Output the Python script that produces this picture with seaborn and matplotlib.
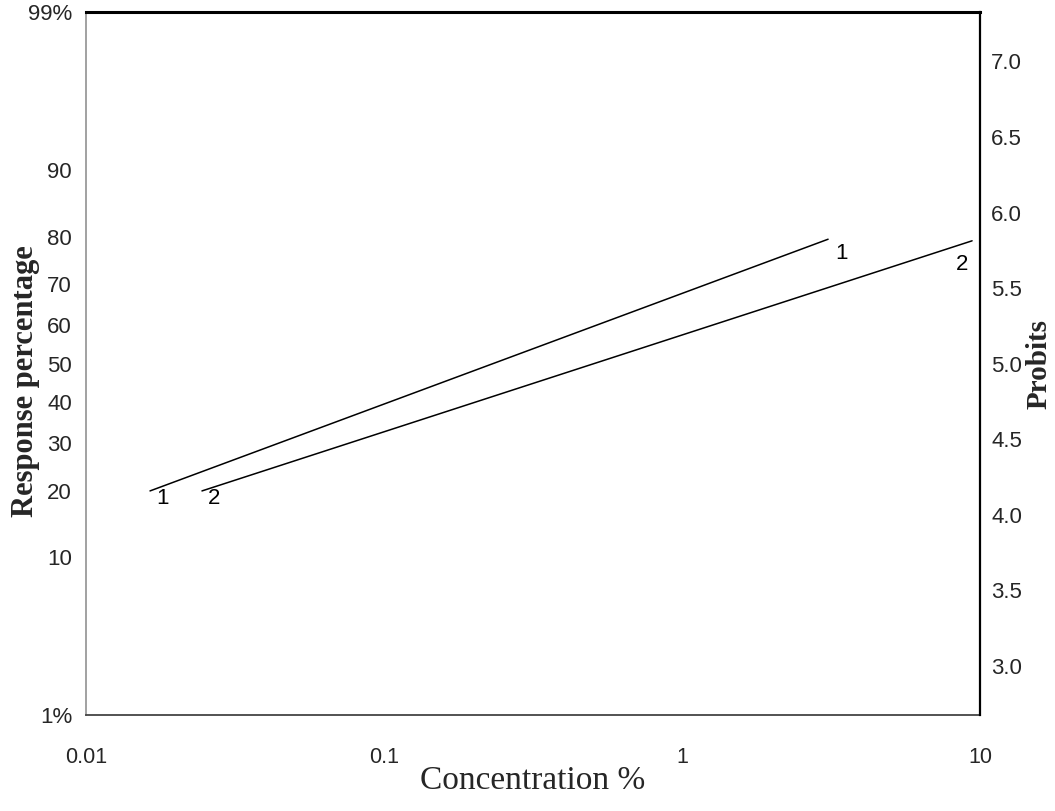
from statistics import NormalDist
import matplotlib
matplotlib.use("Agg")
import matplotlib.pyplot as plt
import numpy as np
import pandas as pd
import seaborn as sns

# data (concentration %, response %)
line_names = ["1", "2"]
conc_1 = [0.0164, 3.09]
resp_1 = [20.0, 79.5]
conc_2 = [0.0245, 9.4]
resp_2 = [20.0, 79.2]

# where the little "1" / "2" tags sit
tag_text = ["1", "2", "1", "2"]
tag_conc = [0.0180, 0.0269, 3.44, 8.70]
tag_resp = [18.7, 18.7, 76.8, 74.5]

pct_ticks = [1, 10, 20, 30, 40, 50, 60, 70, 80, 90, 99]
pct_labels = ["1%", "10", "20", "30", "40", "50", "60", "70", "80", "90", "99%"]
probit_ticks = [3.0, 3.5, 4.0, 4.5, 5.0, 5.5, 6.0, 6.5, 7.0]
x_ticks = [0.01, 0.1, 1, 10]
x_labels = ["0.01", "0.1", "1", "10"]

nd = NormalDist()


def _to_probit(p):
    p = min(max(p, 1e-9), 100 - 1e-9)
    return nd.inv_cdf(p / 100.0) + 5


def _from_probit(z):
    return nd.cdf(z - 5) * 100.0


to_probit = np.vectorize(_to_probit, otypes=[float])
from_probit = np.vectorize(_from_probit, otypes=[float])

df = pd.DataFrame({
    "conc": conc_1 + conc_2,
    "resp": resp_1 + resp_2,
    "line": [line_names[0]] * len(conc_1) + [line_names[1]] * len(conc_2),
})

sns.set_style("white")
plt.rcParams["font.family"] = ["Liberation Sans", "DejaVu Sans"]

fig, ax = plt.subplots(figsize=(10.55, 8.11), dpi=100)
fig.subplots_adjust(left=0.0815, right=0.929, top=0.985, bottom=0.118)

ax.set_xscale("log")
ax.set_yscale("function", functions=(to_probit, from_probit))
ax.set_xlim(0.01, 10)
ax.set_ylim(1, 99)

for name in line_names:
    sns.lineplot(data=df[df["line"] == name], x="conc", y="resp", color="black",
                 lw=1.1, estimator=None, sort=True, ax=ax, legend=False)

for t, xc, yr in zip(tag_text, tag_conc, tag_resp):
    ax.text(xc, yr, t, fontsize=16, ha="center", va="center", color="black")

ax.set_xticks(x_ticks)
ax.set_xticklabels(x_labels)
ax.xaxis.set_minor_locator(matplotlib.ticker.NullLocator())
ax.set_yticks(pct_ticks)
ax.set_yticklabels(pct_labels)
ax.yaxis.set_minor_locator(matplotlib.ticker.NullLocator())
ax.tick_params(axis="x", labelsize=15.5, length=2, width=1, pad=23, direction="in")
ax.tick_params(axis="y", labelsize=16, length=0, pad=10)

ax.set_xlabel("Concentration %", fontsize=24, family="Liberation Serif")
ax.xaxis.set_label_coords(0.5, -0.072)
ax.set_ylabel("Response percentage", fontsize=22, family="Liberation Serif",
              fontweight="bold", va="center")
ax.yaxis.set_label_coords(-0.068, 0.475)

ax.spines["left"].set_color("#9a9a9a")
ax.spines["left"].set_linewidth(1.3)
ax.spines["bottom"].set_color("#444444")
ax.spines["bottom"].set_linewidth(1.3)
ax.spines["top"].set_color("black")
ax.spines["top"].set_linewidth(2.2)
ax.spines["right"].set_visible(False)

# right hand probit axis
ax2 = ax.twinx()
ax2.set_ylim(_to_probit(1), _to_probit(99))
ax2.set_yticks(probit_ticks)
ax2.set_yticklabels([f"{v:.1f}" for v in probit_ticks])
ax2.tick_params(axis="y", labelsize=16, length=0, pad=8)
ax2.set_ylabel("Probits", fontsize=21, family="Liberation Serif", fontweight="bold",
               va="center")
ax2.yaxis.set_label_coords(1.066, 0.50)
for s in ["left", "top", "bottom"]:
    ax2.spines[s].set_visible(False)
ax2.spines["right"].set_color("black")
ax2.spines["right"].set_linewidth(1.6)

fig.savefig("out.png", dpi=100)
